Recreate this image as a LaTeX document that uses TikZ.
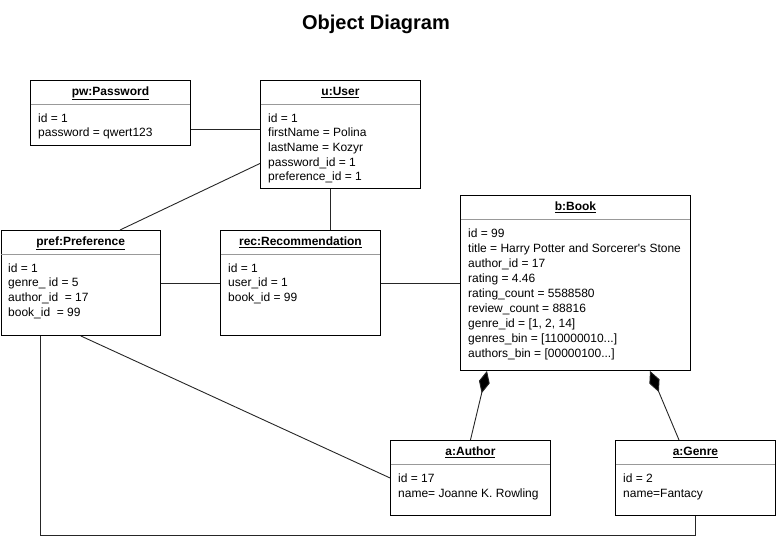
\documentclass[tikz,border=0pt]{standalone}
\usepackage{fontspec}
\setmainfont{Liberation Sans}
\usetikzlibrary{arrows.meta}
\begin{document}
\begin{tikzpicture}[x=1pt,y=-1pt,
  obj/.style={draw=black, line width=0.9pt, inner sep=0, anchor=north west, fill=white},
  otitle/.style={anchor=base, inner sep=0, font=\fontsize{12}{14}\selectfont\bfseries},
  attr/.style={anchor=north west, inner sep=0, align=left, font=\fontsize{12}{14.6}\selectfont},
  sepl/.style={draw=black!40, line width=0.9pt},
  conn/.style={draw=black!85, line width=0.9pt},
  comp/.style={conn, {Diamond[length=23pt,width=11pt,fill=black]}-}
]
\useasboundingbox (0,0) rectangle (776,538);

\node[anchor=center, inner sep=0, font=\fontsize{20}{24}\selectfont\bfseries] (title) at (376,24) {Object Diagram};

% boxes
\node[obj, minimum width=160, minimum height=65] (pw) at (30,80) {};
\node[obj, minimum width=160, minimum height=108] (user) at (260,80) {};
\node[obj, minimum width=159.5, minimum height=105] (pref) at (0.5,230) {};
\node[obj, minimum width=160, minimum height=105] (rec) at (220,230) {};
\node[obj, minimum width=230, minimum height=175] (book) at (460,195) {};
\node[obj, minimum width=160, minimum height=75] (author) at (390,440) {};
\node[obj, minimum width=160, minimum height=75] (genre) at (615,440) {};

% titles
\node[otitle] (pwt) at ([yshift=-15.5pt]pw.north) {\underline{pw:Password}};
\node[otitle] (usert) at ([yshift=-15.5pt]user.north) {\underline{u:User}};
\node[otitle] (preft) at ([yshift=-15.5pt]pref.north) {\underline{pref:Preference}};
\node[otitle] (rect) at ([yshift=-15.5pt]rec.north) {\underline{rec:Recommendation}};
\node[otitle] (bookt) at ([yshift=-15.5pt]book.north) {\underline{b:Book}};
\node[otitle] (authort) at ([yshift=-15.5pt]author.north) {\underline{a:Author}};
\node[otitle] (genret) at ([yshift=-15.5pt]genre.north) {\underline{a:Genre}};

% separators
\foreach \b in {pw,user,pref,rec,book,author,genre}{
  \draw[sepl] ([yshift=-24pt,xshift=0.5pt]\b.north west) -- ([yshift=-24pt,xshift=-0.5pt]\b.north east);
}

% attributes
\node[attr] (pwa) at ([xshift=8pt,yshift=-33.5pt]pw.north west) {id = 1\\password = qwert123};
\node[attr] (usera) at ([xshift=8pt,yshift=-33.5pt]user.north west) {id = 1\\firstName = Polina\\lastName = Kozyr\\password\_id = 1\\preference\_id = 1};
\node[attr] (prefa) at ([xshift=7.5pt,yshift=-33.5pt]pref.north west) {id = 1\\genre\_ id = 5\\author\_id~ = 17\\book\_id~ = 99};
\node[attr] (reca) at ([xshift=8pt,yshift=-33.5pt]rec.north west) {id = 1\\user\_id = 1\\book\_id = 99};
\node[attr, font=\fontsize{12}{15}\selectfont] (booka) at ([xshift=8pt,yshift=-33.5pt]book.north west) {id = 99\\title = Harry Potter and Sorcerer\textquotesingle s Stone\\author\_id = 17\\rating = 4.46\\rating\_count = 5588580\\review\_count = 88816\\genre\_id = [1, 2, 14]\\genres\_bin = [110000010...]\\authors\_bin = [00000100...]};
\node[attr] (authora) at ([xshift=8pt,yshift=-33.5pt]author.north west) {id = 17\\name= Joanne K. Rowling};
\node[attr] (genrea) at ([xshift=8pt,yshift=-33.5pt]genre.north west) {id = 2\\name=Fantacy};

% connectors
\draw[conn] ([yshift=-16.5pt]pw.east) -- ([yshift=-16.5pt]pw.east -| user.west);
\draw[conn] ([yshift=-29pt]user.west) -- ([xshift=119.5pt]pref.north west);
\draw[conn] ([xshift=70pt]user.south west) -- ([xshift=110pt]rec.north west);
\draw[conn] (pref.east) -- (rec.west);
\draw[conn] (rec.east) -- (book.west);
\draw[conn] (pref.south) -- (author.west);
\draw[conn] ([xshift=39.5pt]pref.south west) -- ++(0,200) -| ([xshift=80pt]genre.south west);
\draw[comp] ([xshift=27pt]book.south west) -- (author.north);
\draw[comp] ([xshift=190pt]book.south west) -- ([xshift=64pt]genre.north west);
\end{tikzpicture}
\end{document}
